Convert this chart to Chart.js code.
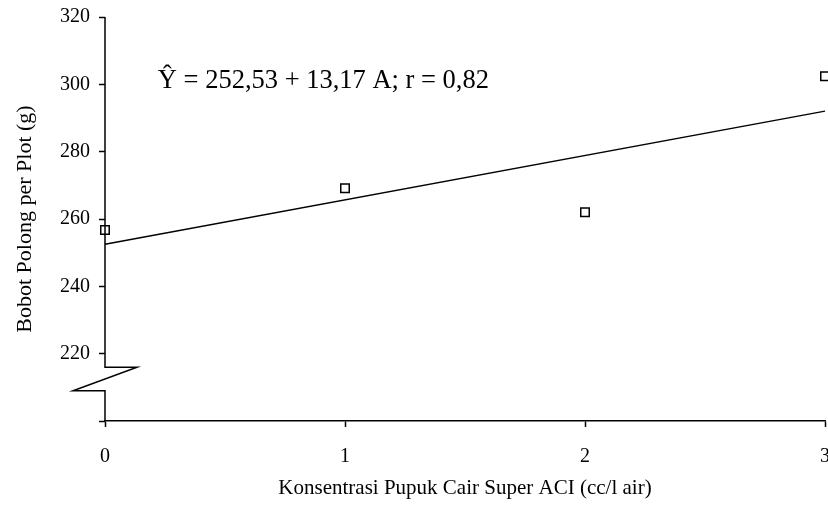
<!DOCTYPE html>
<html>
<head>
<meta charset="utf-8">
<script src="https://cdn.jsdelivr.net/npm/chart.js@4/dist/chart.umd.min.js"></script>
<style>
  html, body { margin: 0; padding: 0; background: #fff; }
  #wrap { width: 828px; height: 509px; }
</style>
</head>
<body>
<div id="wrap"><canvas id="canvas" width="828" height="509"></canvas></div>
<script>
const canvas = document.getElementById('canvas').getContext('2d');

// values
const konsentrasi = [0, 1, 2, 3];
const bobotPolong = [256.7, 269.1, 262.0, 302.4];
const fitX = [0, 3];
const fitY = [252.53, 292.04];
const yTicks = [200, 220, 240, 260, 280, 300, 320];
const xTicks = [0, 1, 2, 3];
const equation = 'Ŷ = 252,53 + 13,17 A; r = 0,82';
const breakFrom = 216;
const breakTo = 209;

const serif = "'Liberation Serif', 'Times New Roman', serif";

// y axis with the break zigzag + the regression text
const brokenAxis = {
  id: 'brokenAxis',
  afterDraw(chart) {
    const ctx = chart.ctx;
    const y = chart.scales.y;
    const x = chart.scales.x;
    const ax = x.getPixelForValue(0);
    const yTop = y.getPixelForValue(320);
    const yB1 = y.getPixelForValue(breakFrom);
    const yB2 = y.getPixelForValue(breakTo);
    const yBot = y.getPixelForValue(200);
    ctx.save();
    ctx.strokeStyle = '#000';
    ctx.lineWidth = 1.5;
    ctx.beginPath();
    ctx.moveTo(ax, yTop);
    ctx.lineTo(ax, yB1);
    ctx.lineTo(ax + 32, yB1);
    ctx.lineTo(ax - 32, yB2);
    ctx.lineTo(ax, yB2);
    ctx.lineTo(ax, yBot);
    ctx.stroke();

    ctx.fillStyle = '#000';
    ctx.font = '26.5px ' + serif;
    ctx.textBaseline = 'alphabetic';
    ctx.textAlign = 'left';
    ctx.fillText(equation, x.getPixelForValue(0.22), y.getPixelForValue(298.9));
    ctx.restore();
  }
};

let chart = new Chart(canvas, {
  type: 'scatter',
  data: {
    datasets: [
      {
        label: 'Bobot',
        data: konsentrasi.map((k, i) => ({ x: k, y: bobotPolong[i] })),
        pointStyle: 'rect',
        pointRadius: 6,
        pointBorderWidth: 1.5,
        pointBorderColor: '#000',
        pointBackgroundColor: 'rgba(255,255,255,0)',
        showLine: false,
        clip: false
      },
      {
        label: 'Regresi',
        type: 'line',
        data: fitX.map((k, i) => ({ x: k, y: fitY[i] })),
        borderColor: '#000',
        borderWidth: 1.5,
        pointRadius: 0,
        fill: false,
        clip: false
      }
    ]
  },
  options: {
    responsive: false,
    animation: false,
    layout: { autoPadding: false, padding: { top: 17, right: 3, left: 0, bottom: 0 } },
    plugins: {
      legend: { display: false },
      tooltip: { enabled: false }
    },
    scales: {
      x: {
        type: 'linear',
        min: 0,
        max: 3,
        afterBuildTicks: s => { s.ticks = xTicks.map(v => ({ value: v })); },
        afterFit: s => { s.height = 88; s.paddingLeft = 0; s.paddingRight = 0; },
        border: { display: true, color: '#000', width: 1.5 },
        grid: { drawOnChartArea: false, drawTicks: true, tickLength: 6, tickColor: '#000', tickWidth: 1.5 },
        ticks: { color: '#000', font: { family: serif, size: 20 }, padding: 18, maxRotation: 0 },
        title: {
          display: true,
          text: 'Konsentrasi Pupuk Cair Super ACI (cc/l air)',
          color: '#000',
          font: { family: serif, size: 21 },
          padding: { top: 0, bottom: 8 }
        }
      },
      y: {
        type: 'linear',
        min: 200,
        max: 320,
        afterBuildTicks: s => { s.ticks = yTicks.map(v => ({ value: v })); },
        afterFit: s => { s.width = 105; s.paddingTop = 0; s.paddingBottom = 0; },
        border: { display: false },
        grid: { drawOnChartArea: false, drawTicks: true, tickLength: 6, tickColor: '#000', tickWidth: 1.5 },
        ticks: {
          color: '#000',
          font: { family: serif, size: 20 },
          padding: 9,
          callback: v => (v === 200 ? '' : v)
        },
        title: {
          display: true,
          text: 'Bobot Polong per Plot (g)',
          color: '#000',
          font: { family: serif, size: 22 },
          padding: { top: 12, bottom: 0 }
        }
      }
    }
  },
  plugins: [brokenAxis]
});
</script>
</body>
</html>
